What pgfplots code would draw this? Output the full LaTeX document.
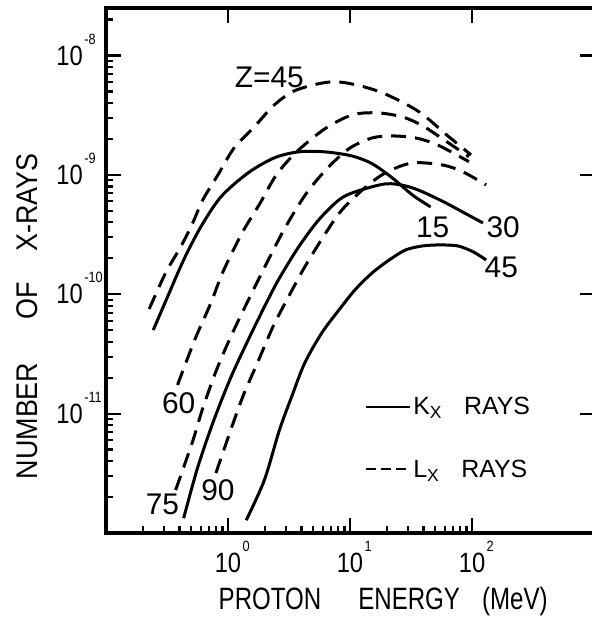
\documentclass[border=0pt]{standalone}
\usepackage{fontspec}
\setmainfont{Liberation Sans}
\newfontfamily\labfont[FakeStretch=0.78]{Liberation Sans}
\newfontfamily\ylabfont[FakeStretch=0.9]{Liberation Sans}
\newfontfamily\tickfont[FakeStretch=0.85]{Liberation Sans}
\usepackage{pgfplots}
\pgfplotsset{compat=1.18}

% power-of-ten tick label, exponent set as a raised small number
\newcommand{\tenexp}[1]{10\rlap{\hspace{1.5bp}\raisebox{21bp}[0pt][0pt]{\fontsize{15}{15}\selectfont #1}}}
\newcommand{\numfont}{\fontsize{30}{30}\selectfont}

\pgfplotsset{
  kx/.style={black, line width=3bp, smooth, no marks},
  lx/.style={black, line width=3bp, smooth, no marks, dash pattern=on 15bp off 9bp},
}
\tikzset{
  axframe/.style={black, line width=4bp, line cap=rect},
  axtick/.style={black, line width=2.2bp},
}
% axis box geometry: 4 decades across, 4.398 decades up
\newcommand{\xdec}{122}
\newcommand{\ydec}{119.37}

\begin{document}
\begin{tikzpicture}
\begin{axis}[
  name=ax,
  scale only axis, width=488bp, height=525bp,
  xmode=log, ymode=log,
  xmin=0.1, xmax=1000, ymin=1e-12, ymax=2.5e-8,
  axis line style={draw=none},
  xtick={1,10,100},
  xticklabels={\tenexp{0},\tenexp{1},\tenexp{2}},
  ytick={1e-11,1e-10,1e-9,1e-8},
  yticklabels={\tenexp{-11},\tenexp{-10},\tenexp{-9},\tenexp{-8}},
  minor xtick={}, minor ytick={},
  major tick length=0bp, minor tick length=0bp,
  xticklabel style={font=\tickfont\fontsize{28}{28}\selectfont, anchor=north, inner sep=0pt, yshift=-20bp},
  yticklabel style={font=\tickfont\fontsize{28}{28}\selectfont, anchor=east, inner sep=0pt, xshift=-23bp},
  xlabel={\labfont\fontsize{31}{31}\selectfont PROTON\hspace*{37bp}ENERGY\hspace*{22bp}(MeV)},
  xlabel style={at={(axis description cs:0.568,-0.131)}, anchor=center, inner sep=0pt},
  ylabel={\ylabfont\fontsize{30}{30}\selectfont NUMBER\hspace*{43bp}OF\hspace*{31bp}X-RAYS},
  ylabel style={at={(axis description cs:-0.162,0.413)}, anchor=center, inner sep=0pt},
  legend style={at={(axis description cs:0.531,0.263)}, anchor=north west,
    draw=none, fill=none, inner sep=0pt, row sep=40bp,
    font=\fontsize{25}{25}\selectfont, cells={anchor=west}},
  legend image code/.code={\draw[#1] (0bp,0bp) -- (44bp,0bp);},
]

% K x-rays, Z = 15
\addplot[kx, legend image post style={line width=2bp}] coordinates {
  (0.244,5.02e-11) (0.319,9.48e-11) (0.433,1.94e-10) (0.598,3.66e-10)
  (0.875,6.55e-10) (1.463,1.04e-9) (2.40,1.39e-9) (3.79,1.56e-9)
  (6.21,1.56e-9) (10.4,1.44e-9) (15.2,1.24e-9) (22.2,9.44e-10)
  (32.5,6.79e-10) (45.8,5.39e-10)
};
\addlegendentry{K\textsubscript{X}\hspace*{22bp}RAYS}

% L x-rays, Z = 45
\addplot[lx, legend image post style={line width=2bp, dash pattern=on 10bp off 5bp}] coordinates {
  (0.226,7.53e-11) (0.308,1.51e-10) (0.409,2.49e-10) (0.514,3.96e-10)
  (0.621,6.17e-10) (0.827,1.0e-9) (1.121,1.68e-9) (1.640,2.52e-9)
  (2.40,3.86e-9) (3.65,5.15e-9) (7.52,6.03e-9) (16.7,5.06e-9)
  (35.8,3.44e-9) (63.4,2.12e-9) (98.2,1.47e-9)
};
\addlegendentry{L\textsubscript{X}\hspace*{22bp}RAYS}

% K x-rays, Z = 30
\addplot[kx, forget plot] coordinates {
  (0.433,1.33e-12) (0.565,3.56e-12) (0.766,8.83e-12) (1.059,2.03e-11)
  (1.463,4.14e-11) (1.985,7.83e-11) (2.59,1.32e-10) (3.79,2.49e-10)
  (5.54,4.20e-10) (8.11,6.17e-10) (11.0,7.21e-10) (19.5,8.41e-10)
  (28.5,8.09e-10) (39.4,7.21e-10) (61.0,5.82e-10) (96.2,4.53e-10)
  (123,3.96e-10)
};

% K x-rays, Z = 45
\addplot[kx, forget plot] coordinates {
  (1.41,1.28e-12) (1.985,2.77e-12) (2.64,7.29e-12) (3.32,1.38e-11)
  (4.25,2.65e-11) (5.87,4.74e-11) (8.11,7.38e-11) (11.0,1.09e-10)
  (15.2,1.51e-10) (21.0,1.94e-10) (28.5,2.35e-10) (39.4,2.54e-10)
  (54.4,2.59e-10) (76.6,2.54e-10) (102,2.27e-10) (130.6,1.94e-10)
};

% L x-rays, Z = 60
\addplot[lx, forget plot] coordinates {
  (0.386,1.74e-11) (0.533,4.14e-11) (0.724,8.45e-11) (0.909,1.54e-10)
  (1.306,3.27e-10) (1.838,5.82e-10) (2.49,1.0e-9) (3.65,1.56e-9)
  (6.21,2.43e-9) (10.4,3.18e-9) (16.7,3.31e-9) (26.9,3.06e-9)
  (39.4,2.58e-9) (57.5,2.00e-9) (94.4,1.42e-9)
};

% L x-rays, Z = 75
\addplot[lx, forget plot] coordinates {
  (0.372,2.29e-12) (0.514,5.89e-12) (0.621,1.11e-11) (0.811,2.37e-11)
  (1.079,4.65e-11) (1.578,1.04e-10) (2.14,1.94e-10) (2.96,3.66e-10)
  (4.41,7.06e-10) (6.70,1.17e-9) (10.0,1.68e-9) (15.2,2.04e-9)
  (22.2,2.12e-9) (34.4,2.04e-9) (52.4,1.78e-9) (94.4,1.29e-9)
};

% L x-rays, Z = 90
\addplot[lx, forget plot] coordinates {
  (0.796,3.18e-12) (1.039,7.01e-12) (1.330,1.41e-11) (1.770,2.76e-11)
  (2.35,5.42e-11) (3.19,9.86e-11) (4.25,1.69e-10) (6.10,3.08e-10)
  (8.59,5.09e-10) (13.8,8.09e-10) (20.2,1.06e-9) (32.5,1.26e-9)
  (57.5,1.21e-9) (84.3,1.06e-9) (130.6,8.24e-10)
};

% curve labels
\node[font=\numfont] at (axis cs:2.18,6.62e-9) {Z=45};
\node[font=\numfont] at (axis cs:47.6,3.66e-10) {15};
\node[font=\numfont] at (axis cs:180,3.66e-10) {30};
\node[font=\numfont] at (axis cs:174,1.69e-10) {45};
\node[font=\numfont] at (axis cs:0.394,1.23e-11) {60};
\node[font=\numfont] at (axis cs:0.290,1.75e-12) {75};
\node[font=\numfont] at (axis cs:0.827,2.29e-12) {90};
\end{axis}

% heavy frame, one side at a time
\draw[axframe] (ax.north west) -- (ax.south west) -- (ax.south east);
\draw[axframe] (ax.north west) -- (ax.north east);
% major ticks, pointing inward on all four sides
\foreach \d in {1,2,3} {
  \draw[axtick] ([xshift=\d*\xdec bp]ax.south west) -- ++(0bp,15bp);
  \draw[axtick] ([xshift=\d*\xdec bp]ax.north west) -- ++(0bp,-15bp);
}
\foreach \d in {1,2,3,4} {
  \draw[axtick] ([yshift=\d*\ydec bp]ax.south west) -- ++(15bp,0bp);
  \draw[axtick] ([yshift=\d*\ydec bp]ax.south east) -- ++(-14bp,0bp);
}
% minor ticks on the bottom (0.2 ... 90) and left edges
\foreach \d in {0,1,2} {
  \foreach \k in {2,...,9} {
    \draw[axtick] ([xshift={(\d+log10(\k))*\xdec bp}]ax.south west) -- ++(0bp,7bp);
  }
}
\foreach \d in {0,1,2,3} {
  \foreach \k in {2,...,9} {
    \draw[axtick] ([yshift={(\d+log10(\k))*\ydec bp}]ax.south west) -- ++(7bp,0bp);
  }
}
\draw[axtick] ([yshift={(4+log10(2))*\ydec bp}]ax.south west) -- ++(7bp,0bp);

\pgfresetboundingbox
\path ([xshift=-106bp,yshift=-94bp]ax.south west) rectangle ([xshift=-2.6bp,yshift=8bp]ax.north east);
\end{tikzpicture}
\end{document}
